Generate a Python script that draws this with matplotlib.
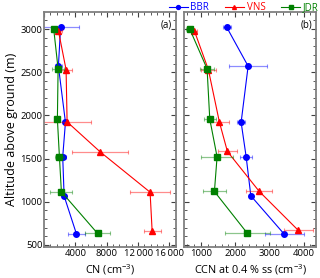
import matplotlib
matplotlib.use("Agg")
import matplotlib.pyplot as plt
from matplotlib.ticker import AutoMinorLocator, FuncFormatter, MultipleLocator

plt.rcParams['font.family'] = ['Open Sans', 'DejaVu Sans']
plt.rcParams['mathtext.fontset'] = 'custom'
plt.rcParams['mathtext.rm'] = 'Open Sans'
plt.rcParams['mathtext.default'] = 'regular'

# ---- data ----
# CN panel (a)
cn_bbr_alt = [3020, 2570, 1920, 1520, 1065, 625]
cn_bbr = [2100, 1820, 2720, 2370, 2550, 4130]
cn_bbr_err = [2400, 450, 300, 400, 300, 1050]

cn_vns_alt = [2980, 2530, 1925, 1580, 1110, 665]
cn_vns = [1820, 2800, 2930, 7120, 13530, 13790]
cn_vns_err = [450, 700, 3080, 3560, 2590, 1100]

cn_jdr_alt = [3000, 2540, 1955, 1520, 1115, 632]
cn_jdr = [1220, 1780, 1690, 1950, 2200, 6820]
cn_jdr_err = [150, 800, 150, 550, 1400, 1580]

# CCN panel (b)
ccn_bbr_alt = [3020, 2570, 1920, 1520, 1068, 624]
ccn_bbr = [1753, 2378, 2173, 2320, 2457, 3434]
ccn_bbr_err = [120, 550, 120, 180, 60, 570]

ccn_vns_alt = [2980, 2530, 1922, 1582, 1120, 668]
ccn_vns = [804, 1214, 1537, 1771, 2701, 3845]
ccn_vns_err = [80, 230, 270, 280, 375, 430]

ccn_jdr_alt = [3000, 2540, 1957, 1520, 1118, 632]
ccn_jdr = [669, 1176, 1255, 1469, 1391, 2358]
ccn_jdr_err = [100, 200, 170, 460, 340, 650]

names = ['BBR', 'VNS', 'JDR']
colors = ['#0000ff', '#ff0000', '#008000']
markers = ['o', '^', 's']

fig = plt.figure(figsize=(3.2, 2.78), dpi=100)
axa = fig.add_axes([0.138, 0.11, 0.411, 0.846])
axb = fig.add_axes([0.576, 0.11, 0.411, 0.846])

def draw(ax, series):
    handles = []
    for (x, y, e), c, m, n in zip(series, colors, markers, names):
        ax.errorbar(x, y, xerr=e, fmt='none', ecolor=c, alpha=0.45,
                    elinewidth=0.9, capsize=1.5, capthick=0.8)
        h, = ax.plot(x, y, color=c, marker=m, markersize=4, lw=0.8, label=n)
        handles.append(h)
    return handles

hs = draw(axa, [(cn_bbr, cn_bbr_alt, cn_bbr_err),
                (cn_vns, cn_vns_alt, cn_vns_err),
                (cn_jdr, cn_jdr_alt, cn_jdr_err)])
draw(axb, [(ccn_bbr, ccn_bbr_alt, ccn_bbr_err),
           (ccn_vns, ccn_vns_alt, ccn_vns_err),
           (ccn_jdr, ccn_jdr_alt, ccn_jdr_err)])

axa.set_xlim(0, 16800)
axb.set_xlim(510, 4360)
for ax in (axa, axb):
    ax.set_ylim(470, 3195)
    ax.yaxis.set_major_locator(MultipleLocator(500))
    ax.yaxis.set_minor_locator(AutoMinorLocator(5))
    ax.tick_params(which='both', direction='in', top=True, right=True,
                   color='#404040', labelsize=6.8, pad=1.2)
    ax.tick_params(which='major', length=3.5, width=0.8)
    ax.tick_params(which='minor', length=2, width=0.6)
    for s in ax.spines.values():
        s.set_color('#808080')
        s.set_linewidth(1.3)

axa.xaxis.set_major_locator(MultipleLocator(4000))
axa.xaxis.set_minor_locator(AutoMinorLocator(5))
axa.xaxis.set_major_formatter(FuncFormatter(
    lambda v, p: (f"{int(v):,}".replace(",", "\u2009") if v >= 10000 else f"{int(v)}") if v > 0 else ""))
axb.xaxis.set_major_locator(MultipleLocator(1000))
axb.xaxis.set_minor_locator(AutoMinorLocator(5))
axb.set_yticklabels([])

axa.set_ylabel('Altitude above ground (m)', fontsize=9, labelpad=2)
axa.set_xlabel('CN (cm$^{-3}$)', fontsize=7.8)
axb.set_xlabel('CCN at 0.4 % ss (cm$^{-3}$)', fontsize=7.8)
for ax in (axa, axb):
    ax.xaxis.set_label_coords(0.5, -0.062)

axa.text(0.97, 0.97, '(a)', transform=axa.transAxes, ha='right', va='top', fontsize=7)
axb.text(0.97, 0.97, '(b)', transform=axb.transAxes, ha='right', va='top', fontsize=7)

leg = fig.legend(handles=hs, loc='upper right', bbox_to_anchor=(1.0, 0.998), ncol=3,
                 frameon=False, fontsize=7, handlelength=2.0, columnspacing=1.6,
                 handletextpad=0.25, borderaxespad=0.0, borderpad=0.15, markerscale=0.7)
for t, c in zip(leg.get_texts(), colors):
    t.set_color(c)

fig.savefig('out.png', dpi=100)
